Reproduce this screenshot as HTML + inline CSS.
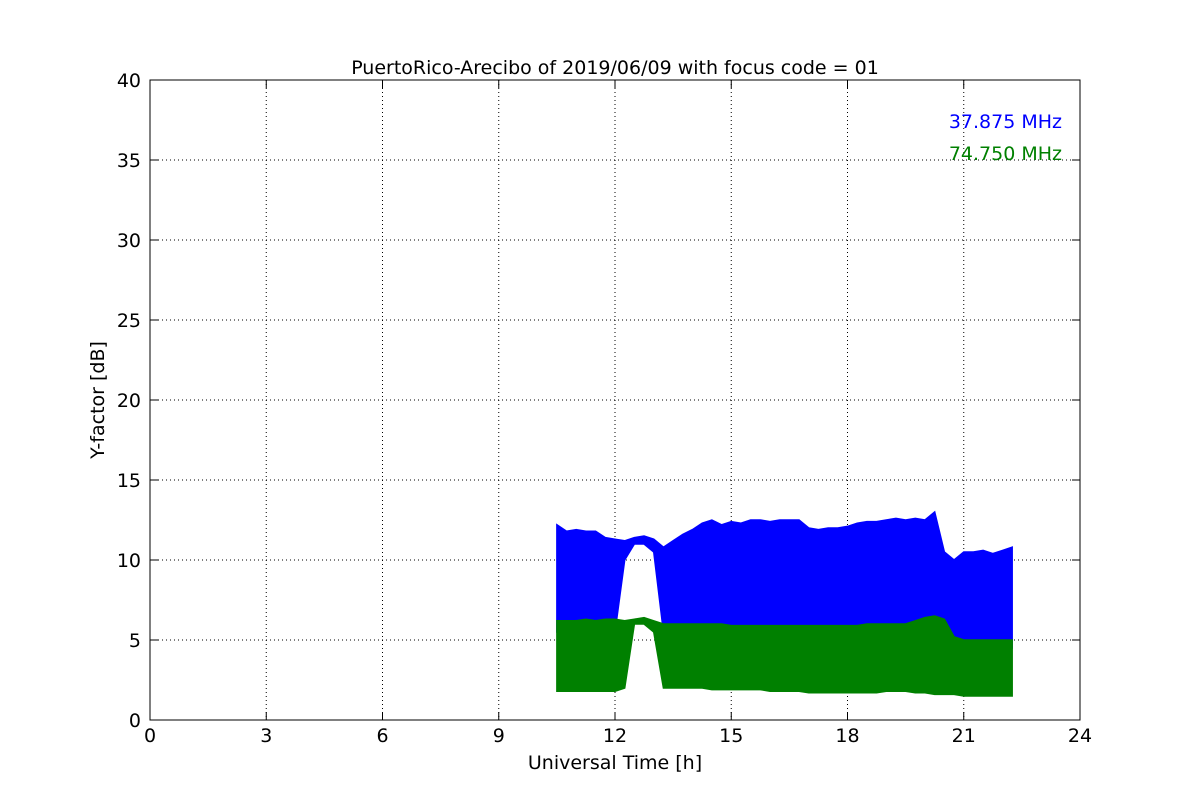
<!DOCTYPE html>
<html><head><meta charset="utf-8"><style>
body{margin:0;background:#fff;}
svg text{font-family:"DejaVu Sans","Liberation Sans",sans-serif;}
</style></head><body>
<svg width="1200" height="800" xmlns="http://www.w3.org/2000/svg">
<rect width="1200" height="800" fill="#fff"/>
<g id="grid"></g>
<g id="series"></g>
<rect x="150" y="80" width="930" height="640" fill="none" stroke="#000" stroke-width="1"/>
<g id="ticks"></g>
<text x="615" y="74" text-anchor="middle" font-size="19">PuertoRico-Arecibo of 2019/06/09 with focus code = 01</text>
<text x="615" y="769" text-anchor="middle" font-size="19">Universal Time [h]</text>
<text transform="translate(104,400) rotate(-90)" text-anchor="middle" font-size="19">Y-factor [dB]</text>
<text x="1062" y="128" text-anchor="end" font-size="19" fill="#0000ff">37.875 MHz</text>
<text x="1062" y="160" text-anchor="end" font-size="19" fill="#008000">74.750 MHz</text>
</svg>
<script>
const xTicks=[0,3,6,9,12,15,18,21,24];
const yTicks=[0,5,10,15,20,25,30,35,40];
const times=[10.5,10.75,11,11.25,11.5,11.75,12,12.25,12.5,12.75,13,13.25,13.5,13.75,14,14.25,14.5,14.75,15,15.25,15.5,15.75,16,16.25,16.5,16.75,17,17.25,17.5,17.75,18,18.25,18.5,18.75,19,19.25,19.5,19.75,20,20.25,20.5,20.75,21,21.25,21.5,21.75,22,22.25];
const blueTop=[12.2,11.8,11.9,11.8,11.8,11.4,11.3,11.2,11.4,11.5,11.3,10.8,11.2,11.6,11.9,12.3,12.5,12.2,12.4,12.3,12.5,12.5,12.4,12.5,12.5,12.5,12.0,11.9,12.0,12.0,12.1,12.3,12.4,12.4,12.5,12.6,12.5,12.6,12.5,13.0,10.5,10.0,10.5,10.5,10.6,10.4,10.6,10.8];
const blueBottom=[5.5,5.5,5.5,5.5,5.5,5.5,5.5,10.0,11.0,11.0,10.5,5.5,5.5,5.5,5.5,5.5,5.5,5.5,5.5,5.5,5.5,5.5,5.5,5.5,5.5,5.5,5.5,5.5,5.5,5.5,5.5,5.5,5.5,5.5,5.5,5.5,5.5,5.5,5.5,5.5,4.5,4.5,4.5,4.5,4.5,4.5,4.5,4.5];
const greenTop=[6.2,6.2,6.2,6.3,6.2,6.3,6.3,6.2,6.3,6.4,6.2,6.0,6.0,6.0,6.0,6.0,6.0,6.0,5.9,5.9,5.9,5.9,5.9,5.9,5.9,5.9,5.9,5.9,5.9,5.9,5.9,5.9,6.0,6.0,6.0,6.0,6.0,6.2,6.4,6.5,6.3,5.2,5.0,5.0,5.0,5.0,5.0,5.0];
const greenBottom=[1.8,1.8,1.8,1.8,1.8,1.8,1.8,2.0,6.0,6.0,5.5,2.0,2.0,2.0,2.0,2.0,1.9,1.9,1.9,1.9,1.9,1.9,1.8,1.8,1.8,1.8,1.7,1.7,1.7,1.7,1.7,1.7,1.7,1.7,1.8,1.8,1.8,1.7,1.7,1.6,1.6,1.6,1.5,1.5,1.5,1.5,1.5,1.5];
const X=t=>150+t*930/24, Y=v=>720-v*16;
const NS="http://www.w3.org/2000/svg";
const grid=document.getElementById('grid'),ticks=document.getElementById('ticks'),ser=document.getElementById('series');
function mk(tag,attrs,parent){const e=document.createElementNS(NS,tag);for(const k in attrs)e.setAttribute(k,attrs[k]);parent.appendChild(e);return e;}
xTicks.forEach(t=>{
  if(t>0&&t<24){const g=mk('line',{x1:X(t),x2:X(t),y1:80,y2:720,stroke:'#000','stroke-dasharray':'1,3','stroke-width':1},grid);
  
  }
  const l=mk('line',{x1:X(t),x2:X(t),y1:720,y2:712,stroke:'#000'},ticks);
  
  
  const l2=mk('line',{x1:X(t),x2:X(t),y1:80,y2:88,stroke:'#000'},ticks);
  
  
  const tx=mk('text',{x:X(t),y:742,'text-anchor':'middle','font-size':19},ticks);tx.textContent=t;
  
  
});
yTicks.forEach(v=>{
  if(v>0&&v<40){const g=mk('line',{x1:150,x2:1080,y1:Y(v),y2:Y(v),stroke:'#000','stroke-dasharray':'1,3','stroke-width':1},grid);
  
  }
  const l=mk('line',{x1:150,x2:158,y1:Y(v),y2:Y(v),stroke:'#000'},ticks);
  
  
  const l2=mk('line',{x1:1072,x2:1080,y1:Y(v),y2:Y(v),stroke:'#000'},ticks);
  
  
  const tx=mk('text',{x:141,y:Y(v)+7,'text-anchor':'end','font-size':19},ticks);tx.textContent=v;
  
  
});
function band(top,bot,color,name){
  let pts=[];
  for(let i=0;i<times.length;i++)pts.push(X(times[i])+','+Y(top[i]));
  for(let i=times.length-1;i>=0;i--)pts.push(X(times[i])+','+Y(bot[i]));
  const p=mk('polygon',{points:pts.join(' '),fill:color,stroke:color,'stroke-width':1.5},ser);
  
  
}
band(blueTop,blueBottom,'#0000ff','series-37875-mhz');
band(greenTop,greenBottom,'#008000','series-74750-mhz');
</script>
</body></html>
